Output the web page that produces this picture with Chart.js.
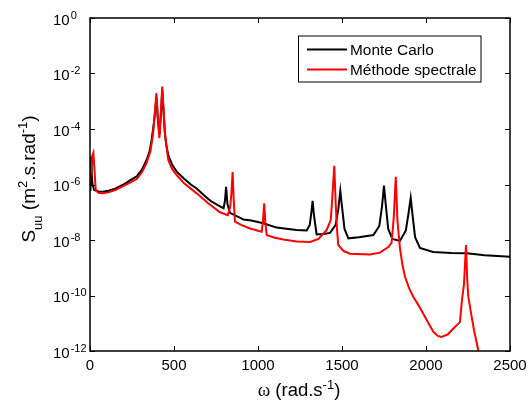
<!DOCTYPE html>
<html>
<head>
<meta charset="utf-8">
<script src="https://cdn.jsdelivr.net/npm/chart.js@4/dist/chart.umd.min.js"></script>
<style>
  html, body { margin: 0; padding: 0; background: #fff; }
  canvas { display: block; }
</style>
</head>
<body>
<canvas id="psd" width="528" height="403"></canvas>
<script>
// Monte Carlo estimate (black)
const mcOmega = [0, 3, 6, 10, 15, 25, 50, 77, 110, 150, 200, 238, 280, 310, 337, 355, 367, 380, 390, 396,
  403, 413, 422, 430, 437, 445, 455, 466, 490, 516, 560, 600, 635, 680, 720, 760, 795, 803, 810, 818,
  833, 873, 913, 960, 1032, 1111, 1180, 1230, 1290, 1308, 1318, 1325, 1333, 1349, 1390, 1429, 1462, 1478, 1490, 1500,
  1515, 1538, 1600, 1687, 1722, 1738, 1750, 1760, 1775, 1800, 1845, 1880, 1897, 1909, 1920, 1935, 1964, 2042, 2150, 2242,
  2350, 2500];
const mcS = [6.3e-7, 2.5e-6, 1.0e-5, 2.5e-6, 1.0e-6, 6.3e-7, 5.6e-7, 5.5e-7, 6.0e-7, 7.1e-7, 1.0e-6, 1.4e-6, 2.0e-6, 3.5e-6, 7.6e-6, 1.6e-5, 4.1e-5, 1.6e-4, 6.3e-4, 1.4e-3,
  2.5e-4, 6.3e-5, 3.2e-4, 2.5e-3, 5.0e-4, 7.9e-5, 2.5e-5, 1.15e-5, 5.0e-6, 2.9e-6, 1.6e-6, 1.0e-6, 7.2e-7, 4.0e-7, 2.5e-7, 1.8e-7, 1.4e-7, 2.5e-7, 8.3e-7, 2.0e-7,
  9.5e-8, 7.2e-8, 5.5e-8, 5.0e-8, 4.0e-8, 2.8e-8, 2.5e-8, 2.3e-8, 2.2e-8, 3.5e-8, 1.0e-7, 2.6e-7, 7.9e-8, 1.6e-8, 1.66e-8, 1.8e-8, 3.5e-8, 1.26e-7, 5.9e-7, 1.6e-7,
  2.5e-8, 1.15e-8, 1.26e-8, 1.5e-8, 3.2e-8, 1.6e-7, 9.1e-7, 2.0e-7, 2.5e-8, 1.1e-8, 9.3e-9, 2.2e-8, 1.0e-7, 3.3e-7, 7.9e-8, 1.26e-8, 5.2e-9, 3.7e-9, 3.4e-9, 3.3e-9,
  2.8e-9, 2.5e-9];

// Spectral method (red)
const spOmega = [0, 8, 14, 20, 26, 34, 50, 73, 110, 150, 200, 242, 280, 310, 337, 360, 375, 385, 395, 403,
  413, 422, 430, 438, 448, 466, 490, 516, 560, 600, 635, 700, 774, 820, 835, 843, 849, 855, 863, 900,
  952, 1022, 1030, 1037, 1044, 1052, 1100, 1151, 1230, 1310, 1360, 1409, 1433, 1442, 1454, 1462, 1470, 1478, 1510, 1548,
  1667, 1726, 1776, 1795, 1808, 1820, 1830, 1845, 1860, 1875, 1900, 1925, 1955, 1984, 2015, 2044, 2070, 2093, 2130, 2163,
  2202, 2214, 2226, 2238, 2246, 2252, 2270, 2286, 2311, 2330];
const spS = [1.26e-6, 5.0e-6, 1.1e-5, 1.4e-5, 4.0e-6, 6.3e-7, 5.0e-7, 4.8e-7, 5.2e-7, 6.3e-7, 8.9e-7, 1.2e-6, 1.6e-6, 2.8e-6, 6.0e-6, 1.6e-5, 6.3e-5, 3.2e-4, 1.95e-3, 3.2e-4,
  4.7e-5, 4.0e-4, 3.4e-3, 5.0e-4, 5.0e-5, 7.6e-6, 3.5e-6, 2.2e-6, 1.1e-6, 7.1e-7, 4.8e-7, 2.2e-7, 1.0e-7, 7.9e-8, 1.6e-7, 6.3e-7, 2.8e-6, 3.2e-7, 4.6e-8, 3.5e-8,
  2.6e-8, 2.0e-8, 5.0e-8, 2.1e-7, 4.0e-8, 1.5e-8, 1.2e-8, 1.05e-8, 8.9e-9, 8.5e-9, 1.1e-8, 2.3e-8, 5.2e-8, 3.2e-7, 4.7e-6, 2.5e-7, 2.5e-8, 6.6e-9, 4.0e-9, 3.2e-9,
  3.0e-9, 3.5e-9, 5.6e-9, 7.9e-9, 6.3e-8, 1.9e-6, 5.0e-8, 5.0e-9, 1.26e-9, 4.7e-10, 1.8e-10, 8.9e-11, 4.5e-11, 2.2e-11, 1.0e-11, 4.9e-12, 3.5e-12, 3.2e-12, 4.0e-12, 6.5e-12,
  1.1e-11, 6.8e-11, 2.5e-10, 6.6e-9, 3.2e-10, 8.9e-11, 2.0e-11, 5.6e-12, 1.07e-12, 2.5e-13];

const seriesLabels = ['Monte Carlo', 'Méthode spectrale'];
const xTicks = [0, 500, 1000, 1500, 2000, 2500];
const yTickExponents = [0, -2, -4, -6, -8, -10, -12];

const SANS = '"Liberation Sans", Arial, sans-serif';
const SERIF = '"Liberation Serif", "Times New Roman", serif';

const font = (size, family) => `${size}px ${family || SANS}`;

const richWidth = (ctx, parts) => parts.reduce((w, p) => {
  ctx.font = font(p.size, p.family);
  return w + ctx.measureText(p.t).width;
}, 0);

const drawRich = (ctx, parts, x, y) => {
  parts.forEach((p) => {
    ctx.font = font(p.size, p.family);
    ctx.fillText(p.t, x, y + (p.dy || 0));
    x += ctx.measureText(p.t).width;
  });
};

const frame = {
  id: 'frame',
  afterDraw(chart) {
    const { ctx, chartArea: a, scales: { x, y } } = chart;
    ctx.save();
    ctx.strokeStyle = '#000';
    ctx.fillStyle = '#000';

    // ticks pointing inwards, all four sides
    ctx.lineWidth = 1;
    ctx.beginPath();
    x.ticks.forEach((t) => {
      const px = Math.round(x.getPixelForValue(t.value)) + 0.5;
      ctx.moveTo(px, a.bottom); ctx.lineTo(px, a.bottom - 5);
      ctx.moveTo(px, a.top); ctx.lineTo(px, a.top + 5);
    });
    y.ticks.forEach((t) => {
      const py = Math.round(y.getPixelForValue(t.value)) + 0.5;
      ctx.moveTo(a.left, py); ctx.lineTo(a.left + 5, py);
      ctx.moveTo(a.right, py); ctx.lineTo(a.right - 5, py);
    });
    ctx.stroke();

    ctx.lineWidth = 1.5;
    ctx.strokeRect(a.left, a.top, a.right - a.left, a.bottom - a.top);

    // x tick labels
    ctx.textAlign = 'center';
    ctx.textBaseline = 'alphabetic';
    ctx.font = font(15);
    x.ticks.forEach((t) => {
      ctx.fillText(String(t.value), x.getPixelForValue(t.value), a.bottom + 18.5);
    });

    // y tick labels 10^n
    ctx.textAlign = 'left';
    yTickExponents.forEach((e) => {
      const py = y.getPixelForValue(Math.pow(10, e));
      ctx.font = font(15);
      ctx.fillText('10', 53, py + 6.5);
      const w = ctx.measureText('10').width;
      ctx.font = font(11);
      ctx.fillText(String(e), 53 + w + 1, py + 0.5);
    });

    // x title
    const xt = [
      { t: 'ω', size: 19, family: SERIF },
      { t: ' (rad.s', size: 18.5 },
      { t: '-1', size: 13, dy: -7 },
      { t: ')', size: 18.5 }
    ];
    const xw = richWidth(ctx, xt);
    drawRich(ctx, xt, 299 - xw / 2, 396);

    // y title, rotated
    const yt = [
      { t: 'S', size: 19 },
      { t: 'uu', size: 13, dy: 7 },
      { t: ' (m', size: 19 },
      { t: '2', size: 13, dy: -8 },
      { t: '.s.rad', size: 19 },
      { t: '-1', size: 13, dy: -8 },
      { t: ')', size: 19 }
    ];
    const yw = richWidth(ctx, yt);
    ctx.save();
    ctx.translate(35, 179);
    ctx.rotate(-Math.PI / 2);
    drawRich(ctx, yt, -yw / 2, 0);
    ctx.restore();

    // legend
    ctx.fillStyle = '#fff';
    ctx.fillRect(298, 36, 183, 46);
    ctx.lineWidth = 1;
    ctx.strokeStyle = '#000';
    ctx.strokeRect(298.5, 36, 182.5, 46);
    ctx.font = font(15.4);
    ctx.textBaseline = 'middle';
    seriesLabels.forEach((label, i) => {
      const ds = chart.data.datasets[i];
      const ly = 49.5 + i * 20;
      ctx.strokeStyle = ds.borderColor;
      ctx.lineWidth = 2;
      ctx.beginPath();
      ctx.moveTo(307, ly); ctx.lineTo(347, ly);
      ctx.stroke();
      ctx.fillStyle = '#000';
      ctx.fillText(label, 350, ly + 1);
    });
    ctx.restore();
  }
};

const toPoints = (xs, ys) => xs.map((w, i) => ({ x: w, y: ys[i] }));

new Chart(document.getElementById('psd').getContext('2d'), {
  type: 'line',
  data: {
    datasets: [
      {
        label: seriesLabels[0],
        data: toPoints(mcOmega, mcS),
        borderColor: '#000000',
        borderWidth: 2,
        pointRadius: 0,
        tension: 0,
        clip: 0,
        order: 2
      },
      {
        label: seriesLabels[1],
        data: toPoints(spOmega, spS),
        borderColor: '#ff0000',
        borderWidth: 2,
        pointRadius: 0,
        tension: 0,
        clip: 0,
        order: 1
      }
    ]
  },
  options: {
    responsive: false,
    maintainAspectRatio: false,
    animation: false,
    layout: { padding: { top: 18, right: 18, left: 0, bottom: 0 } },
    plugins: {
      legend: { display: false },
      tooltip: { enabled: false }
    },
    scales: {
      x: {
        type: 'linear',
        min: 0,
        max: 2500,
        grid: { display: false },
        border: { display: false },
        ticks: { display: false },
        afterBuildTicks: (s) => { s.ticks = xTicks.map((v) => ({ value: v })); },
        afterFit: (s) => { s.height = 52; }
      },
      y: {
        type: 'logarithmic',
        min: 1e-12,
        max: 1,
        grid: { display: false },
        border: { display: false },
        ticks: { display: false },
        afterBuildTicks: (s) => { s.ticks = yTickExponents.map((e) => ({ value: Math.pow(10, e) })); },
        afterFit: (s) => { s.width = 90; }
      }
    }
  },
  plugins: [frame]
});
</script>
</body>
</html>
